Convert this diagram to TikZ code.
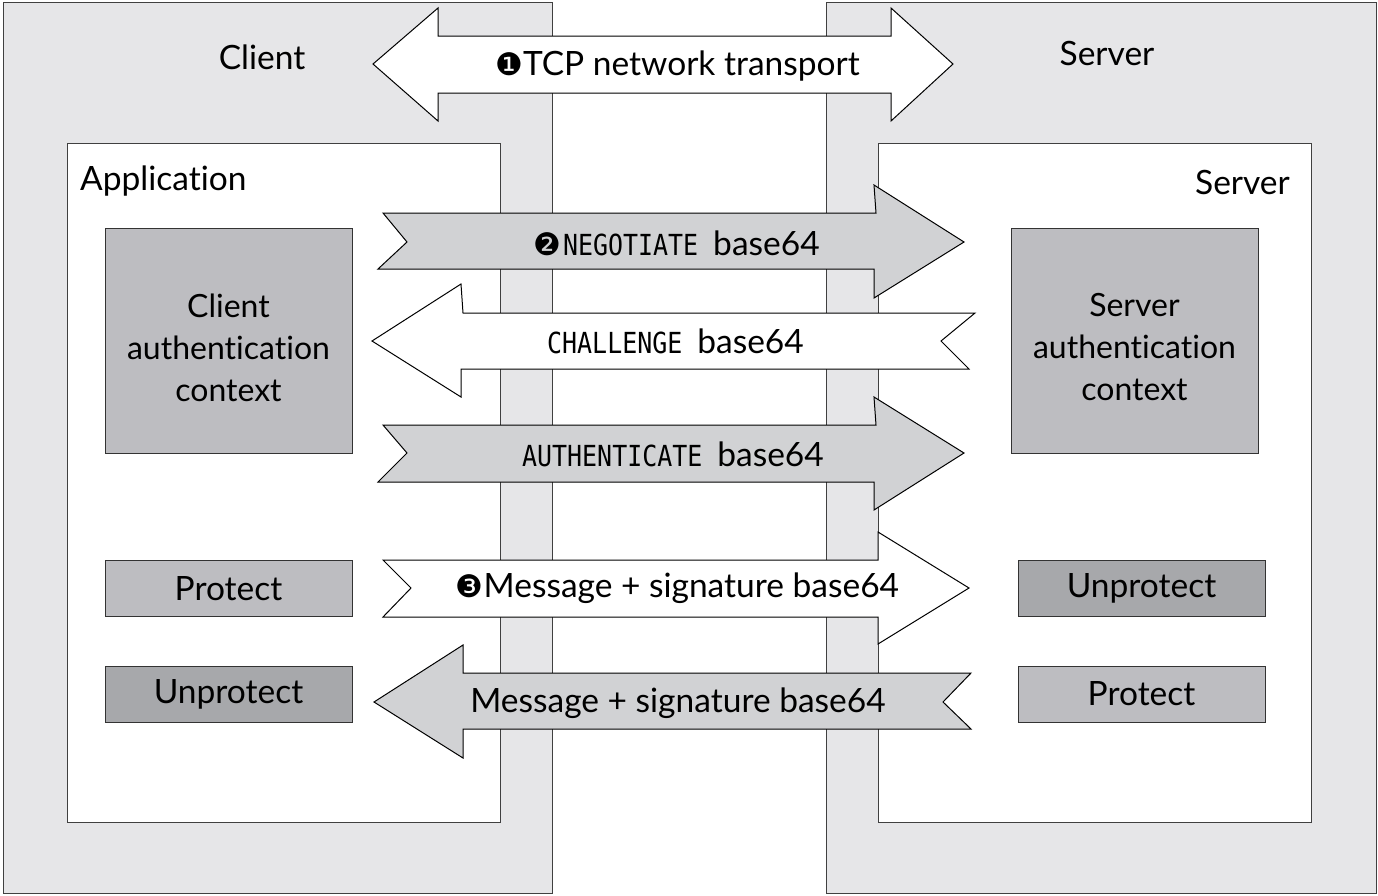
\documentclass[tikz,border=0pt]{standalone}
\usepackage{fontspec}
\setmainfont{Lato}[Ligatures=NoCommon]
\newfontfamily\monof[FakeStretch=0.86]{DejaVu Sans Mono}
\newfontfamily\dingf{DejaVu Sans}
\definecolor{outergray}{HTML}{E6E6E8}
\definecolor{arrowgray}{HTML}{D1D2D4}
\definecolor{ctxgray}{HTML}{BDBDC1}
\definecolor{darkgray}{HTML}{A7A8AB}
\newcommand{\lblfont}{\fontsize{33.5}{42}\selectfont}
\newcommand{\ctxfont}{\fontsize{32}{42}\selectfont}
\newcommand{\mf}{\fontsize{29}{30}\selectfont\monof}
\newcommand{\dg}[1]{{\fontsize{31}{31}\selectfont\dingf #1}}
\begin{document}
\begin{tikzpicture}[x=1pt,y=-1pt,
  outerbox/.style={fill=outergray, draw=black!75, line width=1.2pt},
  innerbox/.style={fill=white, draw=black!75, line width=1.2pt},
  ctxbox/.style={draw=black!80, line width=1pt, fill=ctxgray, minimum width=247pt, minimum height=225pt, inner sep=0pt},
  ctxtext/.style={align=center, font=\ctxfont, inner sep=0pt},
  opbox/.style={draw=black!80, line width=1pt, minimum width=247pt, minimum height=56pt, font=\lblfont, inner sep=0pt},
  lbl/.style={font=\lblfont, inner sep=0pt, anchor=base},
  arr/.style={draw=black, line width=1pt, line join=miter}]
\useasboundingbox (0,0) rectangle (1378,895);
% outer boxes
\node[outerbox, minimum width=549pt, minimum height=891pt, anchor=north west, inner sep=0pt] (client) at (3,2) {};
\node[outerbox, minimum width=550pt, minimum height=891pt, anchor=north west, inner sep=0pt] (server) at (826,2) {};
% inner boxes
\node[innerbox, minimum width=433pt, minimum height=679pt, anchor=north west, inner sep=0pt] (app) at (67,143) {};
\node[innerbox, minimum width=433pt, minimum height=679pt, anchor=north west, inner sep=0pt] (srv) at (878,143) {};
% labels
\node[lbl] (clientlbl) at (262,69) {Client};
\node[lbl] (serverlbl) at (1107,65) {Server};
\node[lbl, anchor=base west] (applbl) at (80,190) {Application};
\node[lbl, anchor=base east] (srvlbl) at (1290,194) {Server};
% context boxes
\node[ctxbox] (cctx) at (228.5,340.5) {};
\node[ctxtext] (cctxlbl) at ([yshift=-7pt]cctx.center) {Client\\authentication\\context};
\node[ctxbox] (sctx) at (1134.5,340.5) {};
\node[ctxtext] (sctxlbl) at ([yshift=-7pt]sctx.center) {Server\\authentication\\context};
% protect boxes
\node[opbox, fill=ctxgray] (cprot) at (228.5,588.5) {Protect};
\node[opbox, fill=darkgray] (cunprot) at (228.5,694) {Unprotect};
\node[opbox, fill=darkgray] (sunprot) at (1141.5,588.5) {Unprotect};
\node[opbox, fill=ctxgray] (sprot) at (1141.5,694) {Protect};
% arrows
\draw[arr, fill=white] (373,64) -- (438,8) -- (438,36) -- (891,36) -- (891,8) -- (953,64) -- (891,121) -- (891,93) -- (438,93) -- (438,121) -- cycle;
\draw[arr, fill=arrowgray] (383,213) -- (876,213) -- (874,185) -- (964,242) -- (874,298) -- (874,269) -- (378,269) -- (407,242) -- cycle;
\draw[arr, fill=white] (372,341) -- (461,284) -- (463,313) -- (975,313) -- (941,341) -- (969,369) -- (461,369) -- (461,397) -- cycle;
\draw[arr, fill=arrowgray] (383,425) -- (876,425) -- (874,397) -- (964,453) -- (874,510) -- (874,482) -- (378,482) -- (407,453) -- cycle;
\draw[arr, fill=white] (383,560) -- (878,560) -- (878,532) -- (969,588) -- (878,644) -- (878,617) -- (383,617) -- (411,588) -- cycle;
\draw[arr, fill=arrowgray] (374,702) -- (463,645) -- (463,673) -- (971,673) -- (943,702) -- (971,729) -- (463,729) -- (463,758) -- cycle;
% arrow labels
\node[lbl] (tcp) at (677.5,75) {\dg{❶}TCP network transport};
\node[lbl] (neg) at (676.5,255) {\dg{❷}\hspace{2pt}{\mf NEGOTIATE }base64};
\node[lbl] (chal) at (675.5,353) {{\mf CHALLENGE }base64};
\node[lbl] (auth) at (673,466) {{\mf AUTHENTICATE }base64};
\node[lbl] (msg1) at (677.5,597) {\dg{❸}Message + signature base64};
\node[lbl] (msg2) at (678,712) {Message + signature base64};
\end{tikzpicture}
\end{document}
